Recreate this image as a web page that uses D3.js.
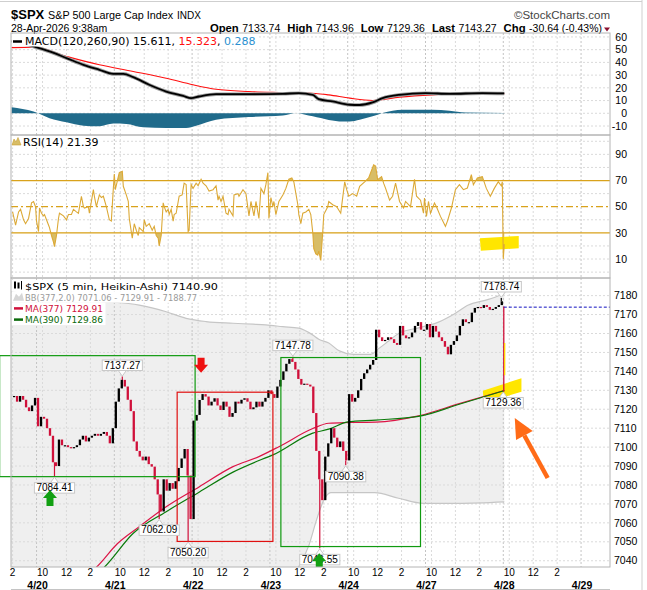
<!DOCTYPE html>
<html><head><meta charset="utf-8">
<script src="https://cdn.jsdelivr.net/npm/d3@7"></script>
<style>body{margin:0;background:#fff}svg{display:block}</style>
</head><body><svg id="c" width="647" height="590"></svg>
<script>
// ---------------- DATA ----------------
// time unit = 5-minute bar index counted from 4/20 09:30 (78 bars per session)
const dayLabels = ["4/20","4/21","4/22","4/23","4/24","4/27","4/28","4/29"];
const hourTicks = [["10",6],["12",30],["2",54]];
const quote = [["Open","7133.74"],["High","7143.96"],["Low","7129.36"],["Last","7143.27"],["Chg","-30.64 (-0.43%)"]];

// 15-minute Heikin-Ashi closes per session
const apr17 = [7127,7124,7127,7125,7121,7119,7122,7126]; // slots 18..25
const apr20 = [7111,7116,7115,7110,7106,7092,7090,7104,7101,7101,7100,7099.5,7100,7101,7104,7106,7103,7105,7106,7107,7106,7107,7108,7106,7102,7110];
const apr21 = [7124,7131,7135.5,7132,7125,7119,7103,7098,7095,7093,7095,7091,7089.7,7083,7075,7066,7083,7077,7081,7078,7082,7089,7094,7099,7085,7062];
const apr22 = [7114,7117,7124.9,7128,7126.7,7122,7124,7125.8,7122,7119.6,7124,7121.4,7116,7118,7124,7123,7125,7125.8,7124,7120,7121,7124,7121.4,7124,7126,7130];
const apr23 = [7128,7126,7132,7135.5,7140,7144,7146.5,7145,7141,7136,7133,7133.5,7133,7132,7118,7098,7083,7072,7095,7102,7110,7105,7100,7103,7098,7093];
const apr24 = [7128,7124,7126,7130,7136,7139,7141,7143.5,7146,7162,7158,7156,7156.6,7158,7157,7155,7154,7164,7159,7157.5,7158,7160.5,7164,7166,7162,7162];
const apr27 = [7165,7158,7164,7161,7158,7156,7153,7149,7154,7156,7159,7164,7167.5,7166,7166,7171,7173.5,7174,7173.5,7175,7174,7172.5,7173,7174,7175,7177];
const apr28Drop = [468.5, 7174.2, 7129.36];   // bar, from, to
const apr28Live = [469.4, 7155, 7138];
const prevClose = 7173.91;

const bbUpper = [[-26,7182],[23,7179],[64,7177],[103,7175],[130,7171.5],[150,7168],[170,7166.3],[197,7165.4],[217,7164.9],[230,7164.5],[247,7163.6],[263,7162.8],[277,7159.2],[283,7157],[293,7155],[303,7151],[318,7149],[335,7149],[343,7152],[353,7156],[363,7160],[383,7163],[403,7166],[418,7170],[433,7175],[453,7178],[469,7181]];
const bbLower = [[-26,7000],[240,7015],[253,7030],[263,7037],[273,7048],[281,7062],[288,7072],[295,7076],[339,7076],[363,7073],[388,7070.3],[423,7070.3],[469,7071.06]];
const ma377 = [[43,7030],[60,7036.6],[81,7049],[103,7058],[130,7068.5],[163,7079],[197,7089.7],[223,7095],[243,7100.2],[277,7109.8],[293,7112.6],[313,7113],[340,7113.2],[383,7116.5],[423,7122.8],[469,7129.91]];
const ma390 = [[53,7030],[68,7036.6],[97,7054.5],[130,7065.9],[163,7076.2],[197,7086.8],[223,7092.9],[237,7095.9],[277,7107.4],[293,7109.5],[312,7113.3],[340,7114.3],[383,7116.2],[423,7122.5],[469,7129.86]];

const macdLine = [[-25,57],[-3,52.5],[13,48.6],[30,43.4],[47,38.1],[63,34.2],[77,31],[87,31],[97,28.4],[113,22.4],[130,17.1],[147,13.7],[155,11.9],[163,13.2],[180,15],[213,15],[247,15.3],[263,15.8],[277,14.5],[283,11.1],[297,9.3],[314,6.7],[324,6.5],[337,8.5],[347,11.9],[364,14.5],[390,15.8],[414,15.3],[447,15.8],[469,15.611]];
const macdSignal = [[-25,51.6],[-3,52],[30,44.7],[63,38.1],[97,32.9],[130,27.6],[157,22.4],[180,18.9],[213,17.1],[247,16.3],[280,15.6],[293,14.5],[314,11.9],[337,10.1],[364,12.7],[397,14.5],[430,15.3],[469,15.323]];
const macdHist = [[-25,4.8],[-3,1.4],[13,-3.8],[30,-7.1],[47,-9.7],[63,-10.2],[77,-8.1],[90,-8.4],[107,-11],[130,-11.5],[150,-11.5],[160,-9.7],[180,-5],[213,-2.9],[247,-1.7],[260,0.1],[277,-2.4],[293,-5.2],[307,-6.4],[314,-6.4],[324,-5],[337,-2.4],[347,0.2],[357,2],[367,2.8],[397,2.8],[414,2],[430,0.7],[469,0.288]];

const rsiData = [[-24,46],[-21,36],[-18,46],[-16,48],[-13,40],[-11,37],[-8,41],[-5,53],[-3,54],[-1,50],[0,39],[2,31],[3,49],[5,45],[7,43],[8,44],[12,36],[13,34],[15,28],[17,23],[18,19.5],[20,28],[22,41],[23,45],[27,43],[30,40],[32,44],[35,44],[37,48],[40,46],[42,45],[45,58],[47,50],[48,49],[52,50],[53,45],[57,63],[58,58],[60,50],[63,59],[65,57],[67,58],[70,50],[73,40],[75,39],[77,64],[78,75],[79,63],[82,73],[83,76],[86,77],[87,65.6],[90,59],[92,54],[93,41],[95,31],[96,26],[98,37],[100,32],[102,28],[103,34],[107,31],[108,40],[110,35],[113,37],[116,32],[118,35],[120,28],[122,26],[123,20],[125,28],[127,53],[128,50],[130,46],[132,48],[133,44],[135,48],[137,39],[138,44],[140,45],[143,58],[146,59],[148,68],[150,67],[152,31],[153,32],[155,67],[157,64],[160,68],[162,66],[165,71],[167,68],[170,66],[173,62],[177,63],[180,66],[182,55],[183,58],[185,54],[187,58],[190,45],[192,44],[193,48],[197,43],[198,59],[202,60],[203,58],[207,63],[210,60],[213,43],[215,54],[218,43],[220,54],[223,41],[225,64],[228,60],[230,67],[232,76],[233,41],[235,57],[237,50],[238,54],[240,44],[243,54],[247,59],[250,64],[253,71],[256,72],[258,69],[262,51.5],[263,44],[265,37],[267,45],[270,46],[273,48],[275,44],[277,30],[278,18],[280,14],[282,13],[283,16],[285,9],[287,31],[288,44],[292,50],[293,54],[297,51.5],[301,50],[305,45],[309,69],[311,63],[313,58],[317,60],[321,58],[324,65.5],[329,69],[333,72],[338,82],[340,81],[342,70.7],[346,73],[348,68],[350,64],[354,55],[357,58],[360,68],[364,54],[368,49],[370,54],[375,50],[379,71],[381,58],[385,55],[388,45],[389,56.6],[391,42.6],[393,54],[395,45],[399,52.8],[401,50],[405,42.6],[410,35],[412,39],[416,49],[420,63],[424,66.8],[428,63],[432,64.3],[436,74.5],[438,66.8],[442,72],[447,73],[451,64],[455,58],[459,64],[463,69],[466,66],[467,69],[468,10],[469,21.39]];

const priceLabels = [[86,7137.27,"up"],[257,7147.78,"up"],[466,7178.74,"up"],[18,7084.41,"down"],[123,7062.09,"down"],[152,7050.20,"down"],[284,7046.55,"down"],[310,7090.38,"down"],[468,7129.36,"down"]];
const greenBoxes = [[-37,159,7084.41,7148.3],[245,385,7047.5,7147.3]];
const redBoxes = [[141,237,7050.2,7129]];
const redArrows = [[165,7139.3]];
const greenArrows = [[13.5,7077.4],[283.5,7044]];
const orangeArrow = [[512.5,7083.7],[479.5,7115.4]];
const hlPrice = [[447.5,7129.7],[486.2,7136.4],[486.2,7129.3],[448.5,7123.2]];
const hlRsi = [[444.5,25.9],[483.5,27.6],[483.5,18.2],[445.5,16.4]];

// ---------------- LAYOUT ----------------
const W=647,H=590,L=11,R=610;
const P={macd:[33,135],rsi:[135,278],price:[278,567]};
const x=d3.scaleLinear().domain([-25.6,575]).range([L,R]);
const yM=d3.scaleLinear().domain([-17.06,63.1]).range([135,33]);
const yR=d3.scaleLinear().domain([-4.5,104.8]).range([278,135]);
const yP=d3.scaleLinear().domain([7036.7,7189.3]).range([567,278]);
const F1='"Liberation Sans", Arial, sans-serif';
const F2='"DejaVu Sans", Verdana, sans-serif';
const RED='#d0103a', GREEN='#109a10';

const svg=d3.select('#c');
const defs=svg.append('defs');
function clip(id,y0,y1){defs.append('clipPath').attr('id',id).append('rect').attr('x',L).attr('y',y0).attr('width',R-L).attr('height',y1-y0);}
clip('cm',P.macd[0],P.macd[1]);clip('cr',P.rsi[0],P.rsi[1]);clip('cp',P.price[0],P.price[1]);
clip('c70',P.rsi[0],yR(70));clip('c30',yR(30),P.rsi[1]);

svg.append('rect').attr('width',W).attr('height',H).attr('fill','#fff');
svg.append('line').attr('x1',0).attr('x2',642).attr('y1',1.5).attr('y2',1.5).attr('stroke','#cfcfcf');
svg.append('line').attr('x1',642).attr('x2',642).attr('y1',0).attr('y2',H).attr('stroke','#cfcfcf');

// ---------------- HEADER ----------------
svg.append('text').attr('x',11).attr('y',19).attr('font-family',F1).attr('font-weight','bold').attr('font-size',13).text('$SPX');
svg.append('text').attr('x',48).attr('y',18.8).attr('font-family',F1).attr('font-size',10.8).text('S&P 500 Large Cap Index');
svg.append('text').attr('x',177).attr('y',18.8).attr('font-family',F1).attr('font-size',10).text('INDX');
svg.append('text').attr('x',610).attr('y',18.8).attr('text-anchor','end').attr('font-family',F1).attr('font-size',11.5).attr('fill','#444').text('\u00A9StockCharts.com');
svg.append('text').attr('x',11).attr('y',32).attr('font-family',F1).attr('font-size',10.5).text('28-Apr-2026 9:38am');
const qt=svg.append('text').attr('x',602).attr('y',32).attr('text-anchor','end').attr('font-family',F1).attr('font-size',10.5);
quote.forEach((q,i)=>{qt.append('tspan').attr('dx',i?7:0).attr('font-weight','bold').attr('font-size',11.3).text(q[0]);qt.append('tspan').attr('dx',3.5).text(q[1]);});
svg.append('path').attr('d','M604,27.5 L610,27.5 L607,31.5 Z').attr('fill','#8b1030');

// ---------------- GRIDS / FRAMES ----------------
const vt=[];
for(let d=-1;d<=7;d++){vt.push({b:78*d,major:true});hourTicks.forEach(h=>vt.push({b:78*d+h[1],major:false}));}
const vTicks=vt.filter(t=>t.b>=-25.6&&t.b<=546);
function grid(y0,y1,hv,ys){
  const g=svg.append('g');
  vTicks.forEach(t=>g.append('line').attr('x1',x(t.b)).attr('x2',x(t.b)).attr('y1',y0).attr('y2',y1).attr('stroke',t.major?'#c4c4c4':'#dadada').attr('stroke-dasharray','2,2'));
  hv.forEach(v=>g.append('line').attr('x1',L).attr('x2',R).attr('y1',ys(v)).attr('y2',ys(v)).attr('stroke','#dadada').attr('stroke-dasharray','2,2'));
}
function frame(y0,y1){svg.append('rect').attr('x',L).attr('y',y0).attr('width',R-L).attr('height',y1-y0).attr('fill','none').attr('stroke','#b4b4b4');}

// ---------------- MACD ----------------
grid(P.macd[0],P.macd[1],d3.range(-10,61,10),yM);
const gm=svg.append('g').attr('clip-path','url(#cm)');
gm.append('path').attr('d',d3.area().x(d=>x(d[0])).y0(yM(0)).y1(d=>yM(d[1])).curve(d3.curveMonotoneX)(macdHist)).attr('fill','#206b8b');
gm.append('path').attr('d',d3.line().x(d=>x(d[0])).y(d=>yM(d[1])).curve(d3.curveMonotoneX)(macdSignal)).attr('fill','none').attr('stroke','#ff1010').attr('stroke-width',1.1);
const ml=d3.line().x(d=>x(d[0])).y(d=>yM(d[1])).curve(d3.curveMonotoneX)(macdLine);
gm.append('path').attr('d',ml).attr('fill','none').attr('stroke','#9a9a9a').attr('stroke-width',3.6);
gm.append('path').attr('d',ml).attr('fill','none').attr('stroke','#000').attr('stroke-width',1.8);
d3.range(-10,61,10).forEach(v=>svg.append('text').attr('x',627).attr('y',yM(v)).attr('dy','0.35em').attr('text-anchor','end').attr('font-family',F1).attr('font-size',10.5).text(v));
{
 const lg=svg.append('g');const bg=lg.append('rect').attr('x',L+0.5).attr('y',34).attr('height',12.5).attr('fill','#fff');
 lg.append('line').attr('x1',13).attr('x2',22).attr('y1',41.5).attr('y2',41.5).attr('stroke','#000').attr('stroke-width',2.5);
 const t=lg.append('text').attr('x',25).attr('y',45.3).attr('font-family',F2).attr('font-size',11);
 t.append('tspan').text('MACD(120,260,90) 15.611, ');t.append('tspan').attr('fill','#ff1010').text('15.323');t.append('tspan').text(', ');t.append('tspan').attr('fill','#2a90d0').text('0.288');
 bg.attr('width',25+t.node().getComputedTextLength()-L+2);
}
frame(P.macd[0],P.macd[1]);

// ---------------- RSI ----------------
grid(P.rsi[0],P.rsi[1],[0,10,20,40,60,80,90,100],yR);
const gr=svg.append('g').attr('clip-path','url(#cr)');
[[70,'c70'],[30,'c30']].forEach(([lv,id])=>{
  gr.append('path').attr('d',d3.area().x(d=>x(d[0])).y0(yR(lv)).y1(d=>yR(d[1]))(rsiData)).attr('clip-path',`url(#${id})`).attr('fill','#d8bd66');
});
[70,30].forEach(v=>gr.append('line').attr('x1',L).attr('x2',R).attr('y1',yR(v)).attr('y2',yR(v)).attr('stroke','#d9a21b').attr('stroke-width',1.3));
gr.append('line').attr('x1',L).attr('x2',R).attr('y1',yR(50)).attr('y2',yR(50)).attr('stroke','#d9a21b').attr('stroke-width',1.2).attr('stroke-dasharray','7,3,2,3');
gr.append('path').attr('d','M'+hlRsi.map(d=>x(d[0])+','+yR(d[1])).join('L')+'Z').attr('fill','#ffe600');
gr.append('path').attr('d',d3.line().x(d=>x(d[0])).y(d=>yR(d[1]))(rsiData)).attr('fill','none').attr('stroke','#dca936').attr('stroke-width',1.1);
[90,70,50,30,10].forEach(v=>svg.append('text').attr('x',627).attr('y',yR(v)).attr('dy','0.35em').attr('text-anchor','end').attr('font-family',F1).attr('font-size',10.5).text(v));
{
 const lg=svg.append('g');const bg=lg.append('rect').attr('x',L+0.5).attr('y',136).attr('height',11.5).attr('fill','#fff');
 lg.append('path').attr('d','M12,145 L14,139 L16,142 L18,137.5 L21,145 Z').attr('fill','#d8bd66').attr('stroke','#c9a030').attr('stroke-width',0.6);
 const t=lg.append('text').attr('x',23).attr('y',145.5).attr('font-family',F2).attr('font-size',11).text('RSI(14) 21.39');
 bg.attr('width',23+t.node().getComputedTextLength()-L+2);
}
frame(P.rsi[0],P.rsi[1]);

// ---------------- PRICE ----------------
const gp=svg.append('g').attr('clip-path','url(#cp)');
const up=bbUpper.map(d=>[x(d[0]),yP(d[1])]), lo=bbLower.map(d=>[x(d[0]),yP(d[1])]);
const lineC=d3.line().curve(d3.curveMonotoneX);
gp.append('path').attr('d',lineC(up)+'L'+lineC(lo.slice().reverse()).slice(1)+'Z').attr('fill','#efefef');
grid(P.price[0],P.price[1],d3.range(7040,7181,10),yP);
const gp2=svg.append('g').attr('clip-path','url(#cp)');
[up,lo].forEach(pts=>gp2.append('path').attr('d',lineC(pts)).attr('fill','none').attr('stroke','#c6c6c6').attr('stroke-width',1.2));
gp2.append('path').attr('d','M'+hlPrice.map(d=>x(d[0])+','+yP(d[1])).join('L')+'Z').attr('fill','#ffe600');
gp2.append('path').attr('d',d3.line().x(d=>x(d[0])).y(d=>yP(d[1])).curve(d3.curveMonotoneX)(ma377)).attr('fill','none').attr('stroke','#dc1445').attr('stroke-width',1.2);
gp2.append('path').attr('d',d3.line().x(d=>x(d[0])).y(d=>yP(d[1])).curve(d3.curveMonotoneX)(ma390)).attr('fill','none').attr('stroke','#0a7a0a').attr('stroke-width',1.2);

// candles
const sessions=[[-1,18,apr17],[0,0,apr20],[1,0,apr21],[2,0,apr22],[3,0,apr23],[4,0,apr24],[5,0,apr27]];
const candles=[];let prev=null;
sessions.forEach(([d,s,arr])=>arr.forEach((c,i)=>{const b=78*d+(s+i)*3+1.5;candles.push({b,o:prev===null?c:prev,c});prev=c;}));
priceLabels.forEach(([b,p,side])=>{
  const near=candles.reduce((a,c)=>Math.abs(c.b-b)<Math.abs(a.b-b)?c:a,candles[0]);
  const ref=side==='up'?Math.max(near.o,near.c):Math.min(near.o,near.c);
  if(b<468) gp2.append('line').attr('x1',x(b)).attr('x2',x(b)).attr('y1',yP(ref)).attr('y2',yP(p)).attr('stroke',side==='up'&&p>7170?'#000':RED).attr('stroke-width',1.2);
});
gp2.selectAll('rect.cd').data(candles).enter().append('rect').attr('class','cd')
 .attr('x',d=>x(d.b)-1.15).attr('width',2.3)
 .attr('y',d=>yP(Math.max(d.o,d.c))).attr('height',d=>Math.max(1.2,Math.abs(yP(d.o)-yP(d.c))))
 .attr('fill',d=>d.c>=d.o?'#000':RED);
gp2.append('line').attr('x1',x(apr28Drop[0])).attr('x2',x(apr28Drop[0])).attr('y1',yP(apr28Drop[1])).attr('y2',yP(apr28Drop[2])).attr('stroke',RED).attr('stroke-width',1.3);
gp2.append('line').attr('x1',x(apr28Live[0])).attr('x2',x(apr28Live[0])).attr('y1',yP(apr28Live[1])).attr('y2',yP(apr28Live[2])).attr('stroke','#ffd400').attr('stroke-width',1.3);
gp2.append('line').attr('x1',x(apr28Drop[0])).attr('x2',R).attr('y1',yP(prevClose)).attr('y2',yP(prevClose)).attr('stroke','#1010c0').attr('stroke-dasharray','3,2');

// boxes
const gb=svg.append('g').attr('fill','none').attr('stroke-width',1.2);
greenBoxes.forEach(b=>gb.append('rect').attr('x',x(b[0])).attr('y',yP(b[3])).attr('width',x(b[1])-x(b[0])).attr('height',yP(b[2])-yP(b[3])).attr('stroke',GREEN));
redBoxes.forEach(b=>gb.append('rect').attr('x',x(b[0])).attr('y',yP(b[3])).attr('width',x(b[1])-x(b[0])).attr('height',yP(b[2])-yP(b[3])).attr('stroke','#e01010'));

// price labels
priceLabels.forEach(([b,p,side])=>{
  const cx=x(b),py=yP(p),g=svg.append('g');
  const t=g.append('text').attr('font-family',F1).attr('font-size',10).attr('text-anchor','middle').attr('x',cx).text(p.toFixed(2));
  const w=t.node().getComputedTextLength()+4,h=10.5;
  const top=side==='up'?py-6-h:py+6;
  g.insert('path','text').attr('d',side==='up'?`M${cx-4},${top+h} L${cx},${py-0.5} L${cx+4},${top+h}`:`M${cx-4},${top} L${cx},${py+0.5} L${cx+4},${top}`).attr('fill','#fff').attr('stroke','#c8c8c8');
  g.insert('rect','text').attr('x',cx-w/2).attr('y',top).attr('width',w).attr('height',h).attr('fill','#fff').attr('stroke','#c8c8c8');
  t.attr('y',top+h-2);
});

// arrows
redArrows.forEach(([b,p])=>{const tx=x(b),ty=yP(p);svg.append('path').attr('d',`M${tx},${ty} L${tx-7},${ty-8} L${tx-3.5},${ty-8} L${tx-3.5},${ty-15} L${tx+3.5},${ty-15} L${tx+3.5},${ty-8} L${tx+7},${ty-8} Z`).attr('fill','#ee1111');});
greenArrows.forEach(([b,p])=>{const tx=x(b),ty=yP(p);svg.append('path').attr('d',`M${tx},${ty} L${tx-7},${ty+8} L${tx-3.5},${ty+8} L${tx-3.5},${Math.min(ty+16,567)} L${tx+3.5},${Math.min(ty+16,567)} L${tx+3.5},${ty+8} L${tx+7},${ty+8} Z`).attr('fill','#12a012');});
{
 const [t0,t1]=orangeArrow;const ax=x(t0[0]),ay=yP(t0[1]),bx=x(t1[0]),by=yP(t1[1]);
 const dx=bx-ax,dy=by-ay,len=Math.hypot(dx,dy),ux=dx/len,uy=dy/len;
 const mx=bx-ux*20,my=by-uy*20,px=-uy,py=ux;
 svg.append('line').attr('x1',ax).attr('y1',ay).attr('x2',mx).attr('y2',my).attr('stroke','#ff6b17').attr('stroke-width',4.5);
 svg.append('path').attr('d',`M${bx},${by} L${mx+px*9.5},${my+py*9.5} L${mx-px*9.5},${my-py*9.5} Z`).attr('fill','#ff6b17');
}

// legend
{
 const rows=[[289.5,'$SPX (5 min, Heikin-Ashi) 7140.90','#000','candle',193],[300.7,'BB(377,2.0) 7071.06 - 7129.91 - 7188.77','#9a9a9a','bb',172],[311.9,'MA(377) 7129.91','#d0103a','l',78],[323.1,'MA(390) 7129.86','#0a6a0a','l',78]];
 rows.forEach(([y,txt,col,ic,tl])=>{
  const g=svg.append('g');const bg=g.append('rect').attr('x',L+0.5).attr('y',y-9.2).attr('height',11.2).attr('fill','#fff');
  const t=g.append('text').attr('x',25).attr('y',y).attr('font-family',F2).attr('font-size',9.5).attr('fill',col).attr('textLength',tl).attr('lengthAdjust','spacingAndGlyphs').text(txt);
  bg.attr('width',25+tl-L+2);
  if(ic==='candle'){g.append('rect').attr('x',14).attr('y',y-8).attr('width',2).attr('height',7).attr('fill','#000');g.append('rect').attr('x',17.5).attr('y',y-7).attr('width',2).attr('height',6).attr('fill','#000');g.append('line').attr('x1',21.5).attr('x2',21.5).attr('y1',y-8.5).attr('y2',y).attr('stroke','#000');}
  else if(ic==='bb'){g.append('path').attr('d',`M13,${y} L16,${y-7} L19,${y-4} L22,${y-8} L24,${y} Z`).attr('fill','#d6d6d6');}
  else {g.append('line').attr('x1',14).attr('x2',23).attr('y1',y-3.5).attr('y2',y-3.5).attr('stroke',col).attr('stroke-width',2.5);}
 });
}
d3.range(7040,7181,10).forEach(v=>svg.append('text').attr('x',614).attr('y',yP(v)).attr('dy','0.35em').attr('font-family',F1).attr('font-size',10.5).text(v));
frame(P.price[0],P.price[1]);

// x axis
svg.append('text').attr('x',x(-24)).attr('y',576).attr('text-anchor','middle').attr('font-family',F1).attr('font-size',10).text('2');
for(let d=0;d<=6;d++) hourTicks.forEach(h=>svg.append('text').attr('x',x(78*d+h[1])).attr('y',576).attr('text-anchor','middle').attr('font-family',F1).attr('font-size',10).text(h[0]));
dayLabels.forEach((lab,d)=>svg.append('text').attr('x',x(78*d)+1).attr('y',588.5).attr('text-anchor','middle').attr('font-family',F1).attr('font-weight','bold').attr('font-size',10.5).text(lab));
svg.append('line').attr('x1',L).attr('x2',R).attr('y1',589.5).attr('y2',589.5).attr('stroke','#c4c4c4');
</script></body></html>
